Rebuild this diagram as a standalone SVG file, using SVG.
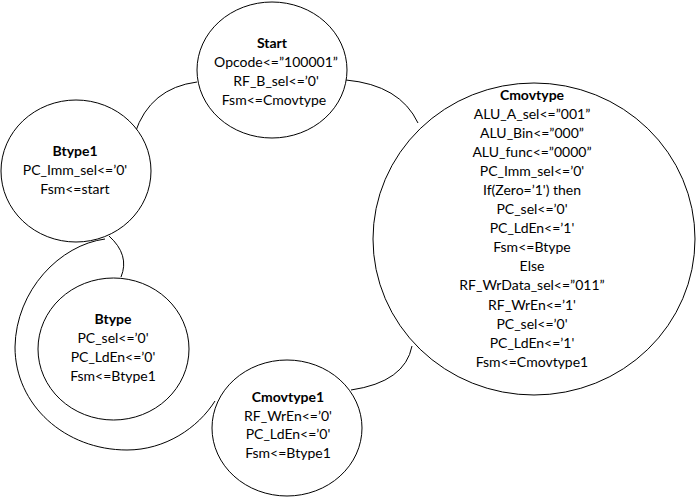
<svg xmlns="http://www.w3.org/2000/svg" width="697" height="499" viewBox="0 0 697 499">
<style>
.st{fill:#fff;stroke:#000;stroke-width:1}
.cn{fill:none;stroke:#000;stroke-width:1}
text{font-family:Lato,"Liberation Sans",sans-serif;font-size:14px;fill:#000;text-anchor:middle}
.h{font-weight:bold}
</style>
<rect width="697" height="499" fill="#fff"/>
<g id="connectors">
<path class="cn" d="M135,133 Q150,88 197,82"/>
<path class="cn" d="M346,80 Q400,85 418,123"/>
<path class="cn" d="M412,346 Q405,382 351,390"/>
<path class="cn" d="M109,236 Q130,255 121,277"/>
<path class="cn" d="M105,239 C60,245 16,290 15,347 C15,405 65,450 127,450 C165,450 198,428 215,401"/>
</g>
<g id="start">
<ellipse class="st" cx="272" cy="70" rx="75" ry="68"/>
<text x="272" y="48" class="h">Start</text>
<text x="276" y="67">Opcode&lt;=”100001”</text>
<text x="276" y="86">RF_B_sel&lt;=’0'</text>
<text x="274" y="105">Fsm&lt;=Cmovtype</text>
</g>
<g id="btype1">
<ellipse class="st" cx="76" cy="171" rx="75" ry="71"/>
<text x="75" y="156" class="h">Btype1</text>
<text x="75" y="175">PC_Imm_sel&lt;=’0'</text>
<text x="75" y="194">Fsm&lt;=start</text>
</g>
<g id="btype">
<ellipse class="st" cx="113.5" cy="349" rx="75.5" ry="71"/>
<text x="113" y="324" class="h">Btype</text>
<text x="113" y="343">PC_sel&lt;=’0'</text>
<text x="113" y="362">PC_LdEn&lt;=’0'</text>
<text x="113" y="381">Fsm&lt;=Btype1</text>
</g>
<g id="cmovtype">
<ellipse class="st" cx="534" cy="239" rx="161" ry="156"/>
<text x="532" y="100" class="h">Cmovtype</text>
<text x="532" y="119">ALU_A_sel&lt;=”001”</text>
<text x="532" y="138">ALU_Bin&lt;=”000”</text>
<text x="532" y="157">ALU_func&lt;=”0000”</text>
<text x="532" y="176">PC_Imm_sel&lt;=’0'</text>
<text x="532" y="195">If(Zero=’1') then</text>
<text x="532" y="214">PC_sel&lt;=’0'</text>
<text x="532" y="233">PC_LdEn&lt;=’1'</text>
<text x="532" y="252">Fsm&lt;=Btype</text>
<text x="532" y="271">Else</text>
<text x="532" y="290">RF_WrData_sel&lt;=”011”</text>
<text x="532" y="310">RF_WrEn&lt;=’1'</text>
<text x="532" y="329">PC_sel&lt;=’0'</text>
<text x="532" y="348">PC_LdEn&lt;=’1'</text>
<text x="532" y="367">Fsm&lt;=Cmovtype1</text>
</g>
<g id="cmovtype1">
<ellipse class="st" cx="287" cy="428" rx="75" ry="68"/>
<text x="288" y="402" class="h">Cmovtype1</text>
<text x="288" y="420.5">RF_WrEn&lt;=’0'</text>
<text x="288" y="439">PC_LdEn&lt;=’0'</text>
<text x="288" y="457.5">Fsm&lt;=Btype1</text>
</g>
</svg>
